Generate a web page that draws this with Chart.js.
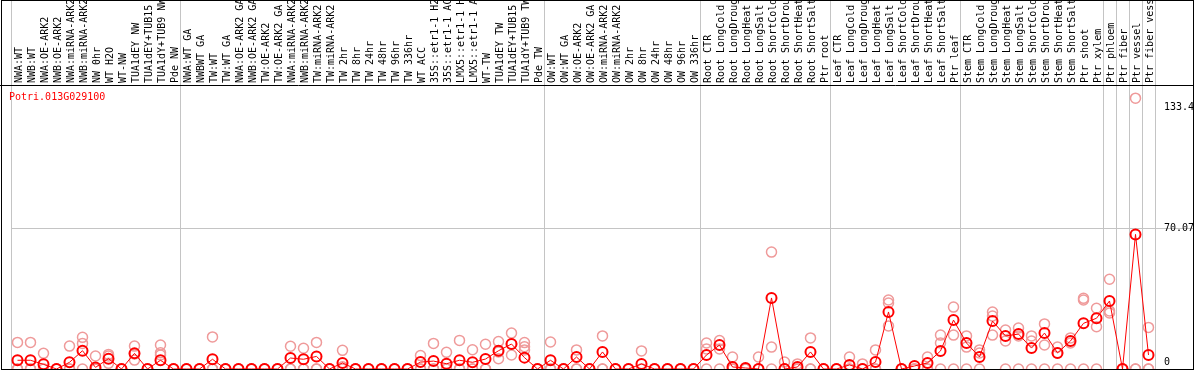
<!DOCTYPE html>
<html>
<head>
<meta charset="utf-8">
<script src="https://cdn.jsdelivr.net/npm/chart.js@4.4.1/dist/chart.umd.min.js"></script>
<style>
html, body { margin: 0; padding: 0; background: #fff; }
#wrap { width: 1194px; height: 370px; }
</style>
</head>
<body>
<div id="wrap"><canvas id="chart" width="1194" height="370"></canvas></div>
<script>
var geneName = 'Potri.013G029100';

var categories = [
    'NWA:WT', 'NWB:WT', 'NWA:OE-ARK2', 'NWB:OE-ARK2', 'NWA:miRNA-ARK2', 'NWB:miRNA-ARK2', 'NW 0hr', 'WT H2O', 'WT-NW',
    'TUA1dEY NW', 'TUA1dEY+TUB15', 'TUA1dY+TUB9 NW', 'Pde NW',
    'NWA:WT GA', 'NWBWT GA', 'TW:WT', 'TW:WT GA', 'NWA:OE-ARK2 GA', 'NWB:OE-ARK2 GA', 'TW:OE-ARK2', 'TW:OE-ARK2 GA',
    'NWA:miRNA-ARK2', 'NWB:miRNA-ARK2', 'TW:miRNA-ARK2', 'TW:miRNA-ARK2', 'TW 2hr', 'TW 8hr', 'TW 24hr', 'TW 48hr',
    'TW 96hr', 'TW 336hr', 'WT ACC', '35S::etr1-1 H2', '35S::etr1-1 AC', 'LMX5::etr1-1 H', 'LMX5::etr1-1 A', 'WT-TW',
    'TUA1dEY TW', 'TUA1dEY+TUB15', 'TUA1dY+TUB9 TW', 'Pde TW',
    'OW:WT', 'OW:WT GA', 'OW:OE-ARK2', 'OW:OE-ARK2 GA', 'OW:miRNA-ARK2', 'OW:miRNA-ARK2', 'OW 2hr', 'OW 8hr',
    'OW 24hr', 'OW 48hr', 'OW 96hr', 'OW 336hr',
    'Root CTR', 'Root LongCold', 'Root LongDroug', 'Root LongHeat', 'Root LongSalt', 'Root ShortCold', 'Root ShortDrou',
    'Root ShortHeat', 'Root ShortSalt', 'Ptr root',
    'Leaf CTR', 'Leaf LongCold', 'Leaf LongDroug', 'Leaf LongHeat', 'Leaf LongSalt', 'Leaf ShortCold', 'Leaf ShortDrou',
    'Leaf ShortHeat', 'Leaf ShortSalt', 'Ptr leaf',
    'Stem CTR', 'Stem LongCold', 'Stem LongDroug', 'Stem LongHeat', 'Stem LongSalt', 'Stem ShortCold', 'Stem ShortDrou',
    'Stem ShortHeat', 'Stem ShortSalt', 'Ptr shoot', 'Ptr xylem',
    'Ptr phloem', 'Ptr fiber', 'Ptr vessel', 'Ptr fiber vess'
];

// index of the first sample of each group (grey separators)
var groupStarts = [0, 13, 41, 53, 63, 73, 84, 85, 86, 87, 88];

var meanValues = [
    4.3, 4.3, 2.3, 0, 3.3, 9.0, 0.8, 5.1, 0, 7.7, 0, 4.3, 0,
    0, 0, 4.8, 0, 0, 0, 0, 0, 5.4, 4.8, 6.2, 0, 3.0, 0, 0, 0, 0, 0, 3.4, 3.9, 2.6, 4.3, 3.3, 4.9, 9.0, 12.3, 5.6, 0,
    4.3, 0, 5.9, 0, 8.4, 0, 0, 2.5, 0, 0, 0, 0,
    6.9, 11.8, 1.0, 0.5, 0, 35.0, 0, 1.0, 8.4, 0,
    0, 2.0, 0, 3.4, 28.1, 0, 1.5, 3.0, 8.9, 24.1,
    12.8, 5.9, 23.6, 16.3, 17.2, 10.3, 17.7, 7.9, 13.8, 22.5, 25.0,
    33.5, 0, 66.3, 6.9
];

var rep1 = [
    13.1, 13.1, 7.7, 0, 11.3, 15.6, 6.4, 7.2, 0, 11.3, 0, 11.8, 0,
    0, 0, 15.8, 0, 0, 0, 0, 0, 11.2, 10.2, 13.1, 0, 9.2, 0, 0, 0, 0, 0, 6.6, 12.6, 8.2, 14.1, 9.5, 12.2, 13.5, 17.7, 13.0, 0,
    13.3, 0, 9.4, 0, 16.3, 0, 0, 8.9, 0, 0, 0, 0,
    12.8, 14.0, 5.9, 0, 5.9, 57.6, 3.4, 2.5, 15.3, 0,
    0, 5.9, 2.5, 9.4, 34.0, 0, 0, 5.9, 16.7, 30.5,
    16.3, 9.4, 28.1, 19.2, 20.2, 16.3, 22.2, 10.8, 15.3, 34.8, 29.9,
    44.2, 0, 133.4, 20.5
];

var rep2 = [
    0, 0, 0, 0, 0, 12.6, 0, 6.4, 0, 7.4, 0, 8.0, 0,
    0, 0, 0, 0, 0, 0, 0, 0, 0, 0, 0, 0, 1.1, 0, 0, 0, 0, 0, 0, 0, 0, 0, 0, 0, 8.4, 12.3, 11.0, 0,
    0, 0, 0, 0, 0, 0, 0, 0, 0, 0, 0, 0,
    9.9, 9.9, 0, 0, 0, 10.8, 0, 0, 0, 0,
    0, 0, 0, 0, 32.5, 0, 0, 0, 12.8, 16.7,
    10.8, 7.9, 26.1, 13.8, 16.3, 13.8, 11.8, 7.9, 12.8, 34.0, 20.8,
    28.6, 0, 0, 0
];

var rep3 = [
    0, 0, 0, 0, 0, 0, 0, 2.8, 0, 4.4, 0, 6.9, 0,
    0, 0, 0, 0, 0, 0, 0, 0, 0, 0, 0, 0, 0, 0, 0, 0, 0, 0, 0, 0, 0, 0, 0, 0, 5.1, 6.9, 9.4, 0,
    0, 0, 0, 0, 0, 0, 0, 0, 0, 0, 0, 0,
    0, 0, 0, 0, 0, 0, 0, 0, 0, 0,
    0, 0, 0, 0, 21.2, 0, 0, 0, 0, 0,
    0, 0, 16.7, 0, 0, 0, 0, 0, 0, 0, 0,
    27.6, 0, 0, 0
];

var tickValues = [0, 70.07, 133.4];

var gridGrey = '#c4c4c4';
var clear = 'rgba(0,0,0,0)';
var monoFont = { family: 'DejaVu Sans Mono', size: 10 };

function repDataset(values) {
    return {
        data: values,
        showLine: false,
        pointRadius: 5,
        pointBorderWidth: 1.5,
        pointBorderColor: '#ef9a9a',
        pointBackgroundColor: clear,
        clip: false
    };
}

var framePlugin = {
    id: 'frame',
    afterDraw: function(chart) {
        var ctx = chart.ctx;
        var area = chart.chartArea;
        ctx.save();
        ctx.strokeStyle = '#000';
        ctx.lineWidth = 1;
        ctx.strokeRect(1.5, 0.5, chart.width - 2, area.bottom);
        ctx.beginPath();
        ctx.moveTo(0, area.top - 0.5);
        ctx.lineTo(chart.width, area.top - 0.5);
        ctx.stroke();
        ctx.fillStyle = '#ff0000';
        ctx.font = '10px "DejaVu Sans Mono"';
        ctx.textBaseline = 'middle';
        ctx.fillText(geneName, area.left - 2, area.top + 11);
        ctx.restore();
    }
};

function noPadding(scale) {
    scale.paddingTop = 0;
    scale.paddingBottom = 0;
    scale.paddingLeft = 0;
    scale.paddingRight = 0;
}

var ctx = document.getElementById('chart').getContext('2d');
var chart = new Chart(ctx, {
    type: 'line',
    data: {
        labels: categories,
        datasets: [{
            data: meanValues,
            borderColor: '#ff0000',
            borderWidth: 1,
            tension: 0,
            pointRadius: 5,
            pointBorderWidth: 2,
            pointBorderColor: '#ff0000',
            pointBackgroundColor: clear,
            clip: false
        }, repDataset(rep1), repDataset(rep2), repDataset(rep3)]
    },
    options: {
        responsive: false,
        animation: false,
        devicePixelRatio: 1,
        layout: { autoPadding: false, padding: { left: 11, right: 0, top: 0, bottom: 1 } },
        plugins: { legend: { display: false }, tooltip: { enabled: false } },
        scales: {
            x: {
                type: 'category',
                position: 'top',
                offset: true,
                border: { display: false },
                grid: {
                    offset: true,
                    tickLength: 86,
                    color: function(c) {
                        var i = c.index === undefined ? categories.length : c.index;
                        return groupStarts.indexOf(i) >= 0 ? gridGrey : clear;
                    }
                },
                ticks: {
                    autoSkip: false,
                    maxRotation: 90,
                    minRotation: 90,
                    padding: -83,
                    labelOffset: 14,
                    color: '#000',
                    font: monoFont
                },
                afterFit: function(scale) {
                    scale.height = 86;
                    noPadding(scale);
                }
            },
            y: {
                display: false,
                min: 0,
                max: 139.4
            },
            y2: {
                position: 'right',
                min: -3.66,
                max: 144.4,
                afterBuildTicks: function(scale) {
                    scale.ticks = tickValues.map(function(v) { return { value: v }; });
                },
                border: { display: false },
                grid: {
                    tickLength: 39,
                    color: function(c) {
                        return c.tick && c.tick.value === 70.07 ? gridGrey : clear;
                    }
                },
                ticks: {
                    padding: -30,
                    color: '#000',
                    font: monoFont,
                    callback: function(v) { return String(v); }
                },
                afterFit: function(scale) {
                    scale.width = 39;
                    noPadding(scale);
                }
            }
        }
    },
    plugins: [framePlugin]
});
</script>
</body>
</html>
